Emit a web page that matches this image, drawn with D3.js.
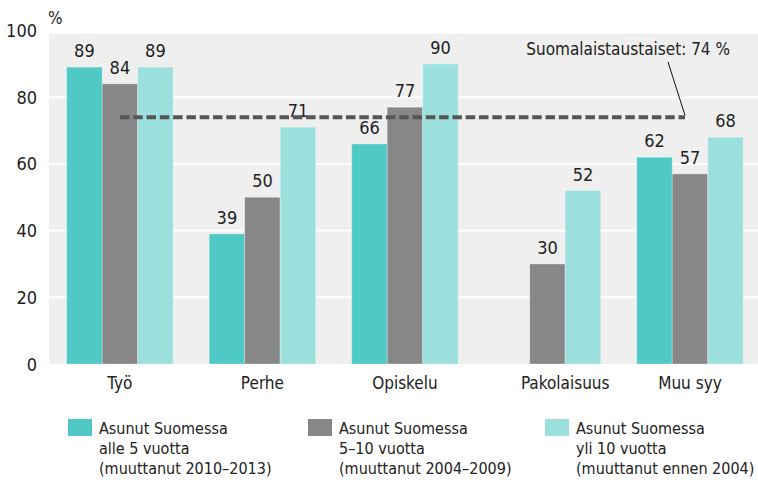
<!DOCTYPE html>
<html>
<head>
<meta charset="utf-8">
<script src="https://cdn.jsdelivr.net/npm/d3@7"></script>
<style>
  body { margin: 0; background: #fff; }
  svg text { font-family: "DejaVu Sans Condensed", "Liberation Sans Narrow", sans-serif; fill: #222; }
</style>
</head>
<body>
<svg class="chart"></svg>
<script>
var categories = ["Työ", "Perhe", "Opiskelu", "Pakolaisuus", "Muu syy"];
var seriesNames = [
  ["Asunut Suomessa", "alle 5 vuotta", "(muuttanut 2010–2013)"],
  ["Asunut Suomessa", "5–10 vuotta", "(muuttanut 2004–2009)"],
  ["Asunut Suomessa", "yli 10 vuotta", "(muuttanut ennen 2004)"]
];
var under5 = [89, 39, 66, null, 62];
var from5to10 = [84, 50, 77, 30, 57];
var over10 = [89, 71, 90, 52, 68];
var yTicks = [0, 20, 40, 60, 80, 100];
var referenceValue = 74;
var referenceLabel = "Suomalaistaustaiset: 74 %";

var colors = ["#4ec9c5", "#878787", "#9ce0de"];

var screen = { //size of the svg
  width: 758,
  height: 480
}

var margins = {
  left: 49,
  top: 30,
  bottom: 116,
  right: 0
}

var svg = d3.select(".chart")
            .attr("width", screen.width)
            .attr("height", screen.height)

var xScale = d3.scaleBand()
               .domain(categories)
               .range([48.7, 761.2])
               .paddingInner(0.2526)
               .paddingOuter(0.126);

var yScale = d3.scaleLinear()
               .domain([0, 100])
               .range([364, 30.5]);

var innerScale = d3.scaleBand()
                   .domain([0, 1, 2])
                   .range([0, xScale.bandwidth()]);

// plot background
svg.append("rect")
   .attr("x", margins.left)
   .attr("y", yScale(99))
   .attr("width", screen.width - margins.left)
   .attr("height", yScale(0) - yScale(99))
   .attr("fill", "#efefef");

// gridlines
svg.append("g")
   .classed("grid", true)
   .selectAll("line")
   .data(yTicks.filter(function(d) {return d > 0 && d < 100;}))
   .enter()
   .append("line")
   .attr("x1", margins.left)
   .attr("x2", screen.width)
   .attr("y1", function(d) {return yScale(d);})
   .attr("y2", function(d) {return yScale(d);})
   .attr("stroke", "#fff")
   .attr("stroke-width", 2);

// y tick labels
svg.append("g")
   .classed("yLabels", true)
   .selectAll("text")
   .data(yTicks)
   .enter()
   .append("text")
   .attr("x", 37)
   .attr("y", function(d) {return yScale(d) + 6.5;})
   .attr("text-anchor", "end")
   .style("font-size", "18px")
   .text(function(d) {return d;});

svg.append("text")
   .attr("x", 48)
   .attr("y", 24)
   .style("font-size", "17px")
   .text("%");

var series = [under5, from5to10, over10];
var bars = [];
series.forEach(function(values, s) {
  values.forEach(function(v, i) {
    if (v != null) bars.push({cat: categories[i], s: s, value: v});
  });
});

svg.append("g")
   .classed("bars", true)
   .selectAll("rect")
   .data(bars)
   .enter()
   .append("rect")
   .attr("x", function(d) {return xScale(d.cat) + innerScale(d.s);})
   .attr("y", function(d) {return yScale(d.value);})
   .attr("width", innerScale.bandwidth())
   .attr("height", function(d) {return yScale(0) - yScale(d.value);})
   .attr("fill", function(d) {return colors[d.s];})
   .attr("stroke", "rgba(255,255,255,0.3)")
   .attr("stroke-width", 1);

svg.append("g")
   .classed("textAbove", true)
   .selectAll("text")
   .data(bars)
   .enter()
   .append("text")
   .attr("x", function(d) {return xScale(d.cat) + innerScale(d.s) + innerScale.bandwidth() / 2;})
   .attr("y", function(d) {return yScale(d.value) - 10;})
   .attr("text-anchor", "middle")
   .style("font-size", "18px")
   .text(function(d) {return d.value;});

// category labels, centred on the bars that exist
svg.append("g")
   .classed("xLabels", true)
   .selectAll("text")
   .data(categories)
   .enter()
   .append("text")
   .attr("x", function(d) {
     var own = bars.filter(function(b) {return b.cat == d;});
     return d3.mean(own, function(b) {return xScale(b.cat) + innerScale(b.s) + innerScale.bandwidth() / 2;});
   })
   .attr("y", 389)
   .attr("text-anchor", "middle")
   .style("font-size", "17px")
   .text(function(d) {return d;});

// reference line
var refStart = xScale(categories[0]) + xScale.bandwidth() / 2;
var refEnd = xScale(categories[categories.length - 1]) + xScale.bandwidth() / 2 - 5;
svg.append("line")
   .attr("x1", refStart)
   .attr("x2", refEnd)
   .attr("y1", yScale(referenceValue))
   .attr("y2", yScale(referenceValue))
   .attr("stroke", "#555")
   .attr("stroke-width", 4)
   .attr("stroke-dasharray", "9.5,3.8");

svg.append("line")
   .attr("x1", 668)
   .attr("y1", 62)
   .attr("x2", refEnd)
   .attr("y2", yScale(referenceValue) - 2)
   .attr("stroke", "#111")
   .attr("stroke-width", 1);

svg.append("text")
   .attr("x", 730)
   .attr("y", 55)
   .attr("text-anchor", "end")
   .style("font-size", "17px")
   .text(referenceLabel);

// legend
var legend = svg.append("g")
                .classed("legend", true)
                .selectAll("g")
                .data(seriesNames)
                .enter()
                .append("g")
                .attr("transform", function(d, i) {return "translate(" + [68, 308, 545][i] + ",419)";});

legend.append("rect")
      .attr("width", 24)
      .attr("height", 17)
      .attr("fill", function(d, i) {return colors[i];});

legend.append("text")
      .style("font-size", "16px")
      .selectAll("tspan")
      .data(function(d) {return d;})
      .enter()
      .append("tspan")
      .attr("x", 31)
      .attr("y", function(d, i) {return 15 + i * 20;})
      .text(function(d) {return d;});
</script>
</body>
</html>
